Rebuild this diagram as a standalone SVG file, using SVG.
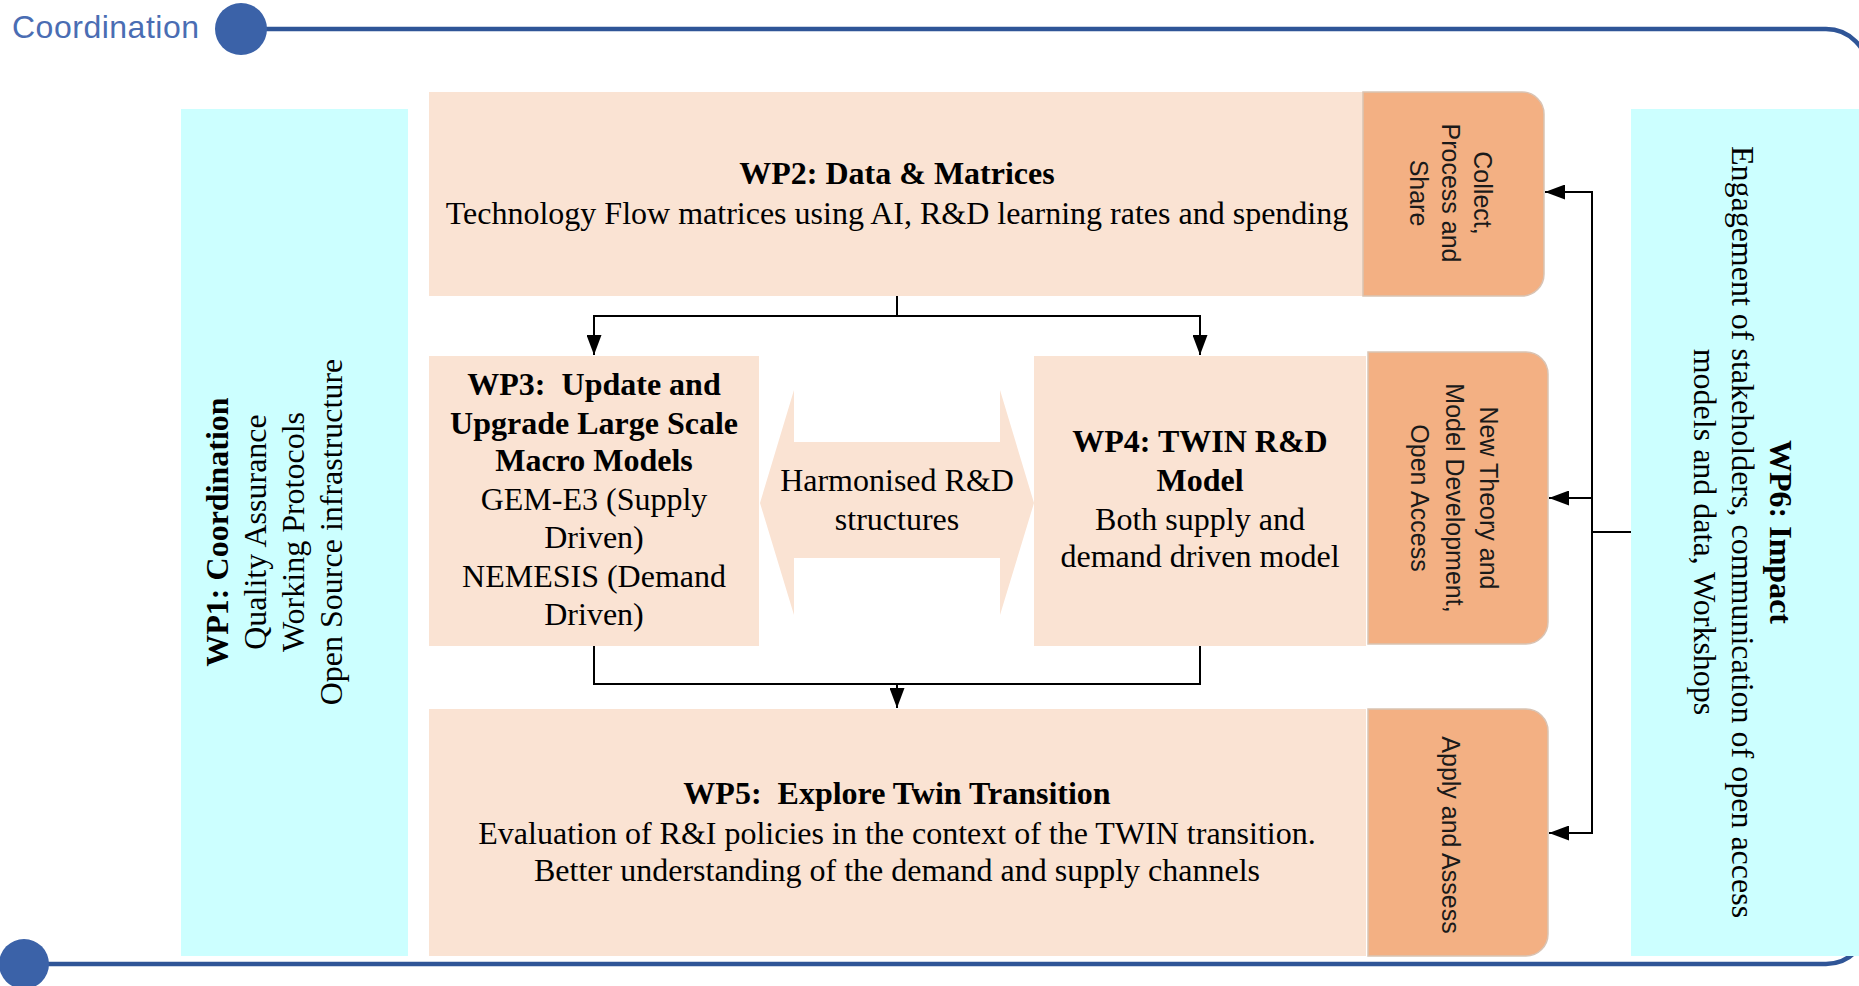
<svg xmlns="http://www.w3.org/2000/svg" width="1859" height="986" viewBox="0 0 1859 986">
<defs>
<style>
.cyan{fill:#CCFFFF}
.peach{fill:#FAE3D3}
.orange{fill:#F3B083;stroke:#D9C3B3;stroke-width:1.5}
.serif{font-family:"Liberation Serif","Times New Roman",serif;font-size:32px;fill:#000}
.b{font-weight:bold}
.sans{font-family:"Liberation Sans",Arial,sans-serif;font-size:25px;fill:#1a1a1a}
.conn{fill:none;stroke:#000;stroke-width:2}
</style>
<marker id="ah" markerUnits="userSpaceOnUse" markerWidth="20" markerHeight="15" refX="20" refY="7.5" orient="auto">
<path d="M0,0 L20,7.5 L0,15 Z" fill="#000"/>
</marker>
</defs>
<rect width="1859" height="986" fill="#fff"/>

<g id="frame">
<path d="M241,29 H1826 A42,42 0 0 1 1868,71 V922 A42,42 0 0 1 1826,964 H24" fill="none" stroke="#2F5597" stroke-width="4.5"/>
<circle cx="241" cy="29" r="26" fill="#3B62A8"/>
<circle cx="24" cy="964" r="25" fill="#3B62A8"/>
<text x="12" y="38" font-family="'Liberation Sans',Arial,sans-serif" font-size="32" fill="#4A6DB3" textLength="187">Coordination</text>
</g>

<g id="wp1">
<rect class="cyan" x="181" y="109" width="227" height="847"/>
<g transform="translate(0,532)">
<text class="serif b" transform="translate(228,0) rotate(-90)" text-anchor="middle">WP1: Coordination</text>
<text class="serif" transform="translate(266,0) rotate(-90)" text-anchor="middle">Quality Assurance</text>
<text class="serif" transform="translate(304,0) rotate(-90)" text-anchor="middle">Working Protocols</text>
<text class="serif" transform="translate(342,0) rotate(-90)" text-anchor="middle">Open Source infrastructure</text>
</g>
</g>

<g id="wp2">
<rect class="peach" x="429" y="92" width="934" height="204"/>
<text class="serif b" x="897" y="184" text-anchor="middle">WP2: Data &amp; Matrices</text>
<text class="serif" x="897" y="224" text-anchor="middle">Technology Flow matrices using AI, R&amp;D learning rates and spending</text>
</g>

<g id="collect">
<path class="orange" d="M1363,92 H1522 A22,22 0 0 1 1544,114 V274 A22,22 0 0 1 1522,296 H1363 Z"/>
<g transform="translate(0,193)">
<text class="sans" transform="translate(1474,0) rotate(90)" text-anchor="middle">Collect,</text>
<text class="sans" transform="translate(1442,0) rotate(90)" text-anchor="middle">Process and</text>
<text class="sans" transform="translate(1410,0) rotate(90)" text-anchor="middle">Share</text>
</g>
</g>

<g id="wp3">
<rect class="peach" x="429" y="356" width="330" height="290"/>
<g text-anchor="middle">
<text class="serif b" x="594" y="395">WP3:&#160; Update and</text>
<text class="serif b" x="594" y="434">Upgrade Large Scale</text>
<text class="serif b" x="594" y="471">Macro Models</text>
<text class="serif" x="594" y="510">GEM-E3 (Supply</text>
<text class="serif" x="594" y="548">Driven)</text>
<text class="serif" x="594" y="587">NEMESIS (Demand</text>
<text class="serif" x="594" y="625">Driven)</text>
</g>
</g>

<g id="harmonised">
<polygon class="peach" points="760,503 794,390 794,442 1000,442 1000,390 1034,503 1000,615 1000,558 794,558 794,615"/>
<text class="serif" x="897" y="491" text-anchor="middle">Harmonised R&amp;D</text>
<text class="serif" x="897" y="530" text-anchor="middle">structures</text>
</g>

<g id="wp4">
<rect class="peach" x="1034" y="356" width="332" height="290"/>
<g text-anchor="middle">
<text class="serif b" x="1200" y="452">WP4: TWIN R&amp;D</text>
<text class="serif b" x="1200" y="491">Model</text>
<text class="serif" x="1200" y="530">Both supply and</text>
<text class="serif" x="1200" y="567">demand driven model</text>
</g>
</g>

<g id="newtheory">
<path class="orange" d="M1368,352 H1526 A22,22 0 0 1 1548,374 V622 A22,22 0 0 1 1526,644 H1368 Z"/>
<g transform="translate(0,498)">
<text class="sans" transform="translate(1480,0) rotate(90)" text-anchor="middle">New Theory and</text>
<text class="sans" transform="translate(1446,0) rotate(90)" text-anchor="middle">Model Development,</text>
<text class="sans" transform="translate(1411,0) rotate(90)" text-anchor="middle">Open Access</text>
</g>
</g>

<g id="wp5">
<rect class="peach" x="429" y="709" width="937" height="247"/>
<g text-anchor="middle">
<text class="serif b" x="897" y="804">WP5:&#160; Explore Twin Transition</text>
<text class="serif" x="897" y="844">Evaluation of R&amp;I policies in the context of the TWIN transition.</text>
<text class="serif" x="897" y="881">Better understanding of the demand and supply channels</text>
</g>
</g>

<g id="apply">
<path class="orange" d="M1368,709 H1526 A22,22 0 0 1 1548,731 V934 A22,22 0 0 1 1526,956 H1368 Z"/>
<text class="sans" transform="translate(1442,835) rotate(90)" text-anchor="middle">Apply and Assess</text>
</g>

<g id="wp6">
<rect class="cyan" x="1631" y="109" width="228" height="847"/>
<g transform="translate(0,532)">
<text class="serif b" transform="translate(1770,0) rotate(90)" text-anchor="middle">WP6: Impact</text>
<text class="serif" transform="translate(1732,0) rotate(90)" text-anchor="middle">Engagement of stakeholders, communication of open access</text>
<text class="serif" transform="translate(1694,0) rotate(90)" text-anchor="middle">models and data, Workshops</text>
</g>
</g>

<g id="connectors">
<path class="conn" d="M897,296 V316 H594 V355" marker-end="url(#ah)"/>
<path class="conn" d="M897,316 H1200 V355" marker-end="url(#ah)"/>
<path class="conn" d="M594,646 V684 H1200 V646"/>
<path class="conn" d="M897,684 V708" marker-end="url(#ah)"/>
<path class="conn" d="M1631,532 H1592"/>
<path class="conn" d="M1592,192 V833"/>
<path class="conn" d="M1593,192 H1545" marker-end="url(#ah)"/>
<path class="conn" d="M1593,498 H1549" marker-end="url(#ah)"/>
<path class="conn" d="M1593,833 H1549" marker-end="url(#ah)"/>
</g>
</svg>
